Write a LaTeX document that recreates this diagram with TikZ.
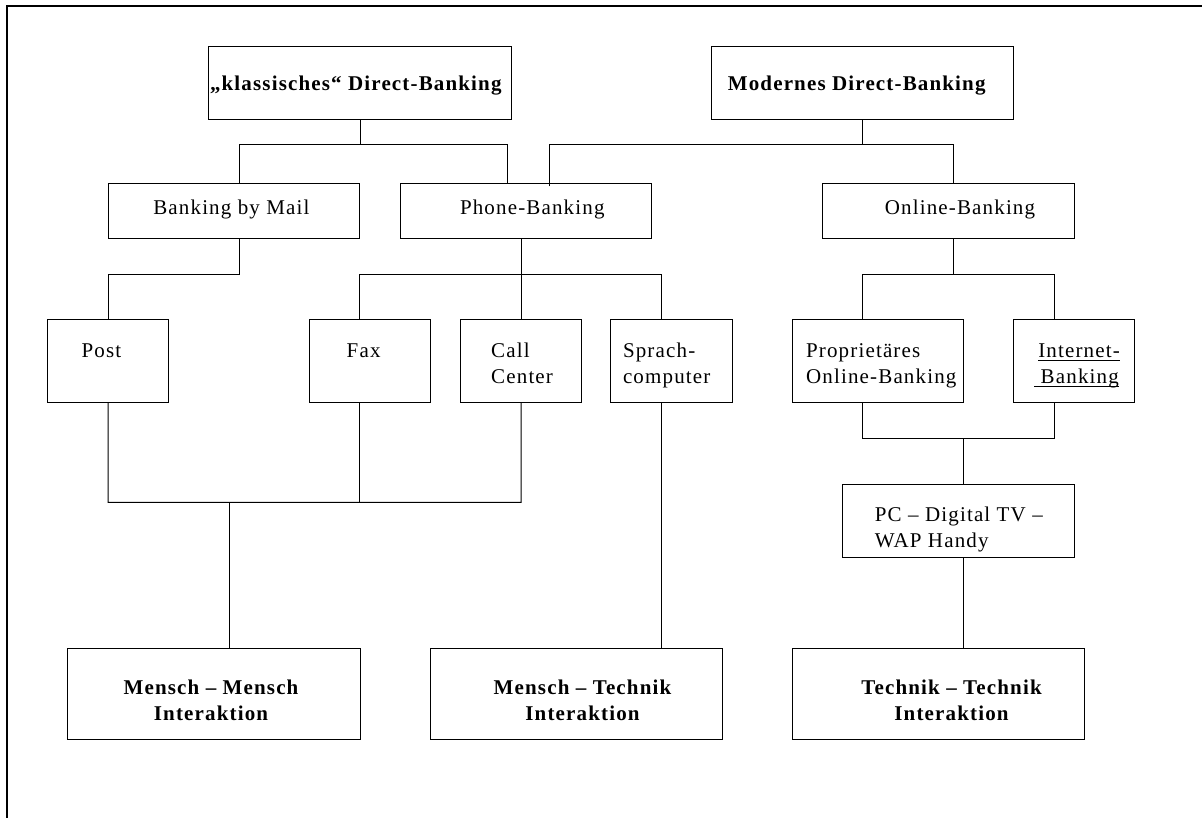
\documentclass[tikz,border=0pt]{standalone}
\usepackage{fontspec}
\setmainfont{Liberation Serif}[LetterSpace=5.5]
% multi-line labels: baseline of the whole block is the first line's baseline
\newcommand\linesL[1]{\vtop{\halign{##\hfil\cr#1\crcr}}}
\newcommand\linesC[1]{\vtop{\halign{\hfil##\hfil\cr#1\crcr}}}
% underline at a fixed depth below the baseline
\newcommand\ulinetxt[1]{\setbox0\hbox{#1}\rlap{\rule[-3.2pt]{\wd0}{0.9pt}}\box0}
\begin{document}
\begin{tikzpicture}[x=1pt,y=-1pt,
  box/.style={draw, line width=1pt, inner sep=0pt, outer sep=0pt},
  lbl/.style={inner sep=0pt, outer sep=0pt, font=\fontsize{21}{26}\selectfont},
  blbl/.style={inner sep=0pt, outer sep=0pt, font=\fontsize{21}{26}\selectfont\bfseries},
  conn/.style={line width=1pt}]
\useasboundingbox (0,0) rectangle (1202,818);

% outer frame
\draw[line width=2.5pt] (7,818) -- (7,6) -- (1202,6);

% boxes
\node[box, minimum width=302.7pt, minimum height=72.6pt] (klass)  at (360.15,83) {};
\node[box, minimum width=302.5pt, minimum height=72.6pt] (modern) at (862.55,83) {};
\node[box, minimum width=251.8pt, minimum height=55pt] (mail)   at (233.9,210.8) {};
\node[box, minimum width=250.6pt, minimum height=55pt] (phone)  at (525.7,210.8) {};
\node[box, minimum width=251.5pt, minimum height=55pt] (online) at (948.35,210.8) {};
\node[box, minimum width=121.1pt, minimum height=82.3pt] (post)   at (108.05,361.15) {};
\node[box, minimum width=120.7pt, minimum height=82.3pt] (fax)    at (369.95,361.15) {};
\node[box, minimum width=121.1pt, minimum height=82.3pt] (call)   at (521.05,361.15) {};
\node[box, minimum width=121.3pt, minimum height=82.3pt] (sprach) at (671.35,361.15) {};
\node[box, minimum width=171.5pt, minimum height=82.3pt] (prop)   at (877.75,361.15) {};
\node[box, minimum width=121pt,   minimum height=82.3pt] (inet)   at (1073.9,361.15) {};
\node[box, minimum width=231.5pt, minimum height=73pt] (pc)     at (958.35,520.8) {};
\node[box, minimum width=292.8pt, minimum height=91pt] (mm)     at (213.8,693.8) {};
\node[box, minimum width=291.7pt, minimum height=91pt] (mt)     at (576.15,693.8) {};
\node[box, minimum width=292.5pt, minimum height=91pt] (tt)     at (938.25,693.8) {};

% labels
\node[blbl, anchor=base west] (klassT)  at (210,91) {„klassisches“ Direct-Banking};
\node[blbl, anchor=base west] (modernT) at (727.8,91) {Modernes Direct-Banking};
\node[lbl, anchor=base west] (mailT)   at (153.3,215) {Banking by Mail};
\node[lbl, anchor=base west] (phoneT)  at (460,215) {Phone-Banking};
\node[lbl, anchor=base west] (onlineT) at (884.8,215) {Online-Banking};
\node[lbl, anchor=base west] (postT)   at (81.6,357.7) {Post};
\node[lbl, anchor=base west] (faxT)    at (346.7,357.7) {Fax};
\node[lbl, anchor=base west] (callT)   at (491.2,357.7) {\linesL{Call\cr Center}};
\node[lbl, anchor=base west] (sprachT) at (623,357.7) {\linesL{Sprach-\cr computer}};
\node[lbl, anchor=base west] (propT)   at (806.1,357.7) {\linesL{Proprietäres\cr Online-Banking}};
\node[lbl, anchor=base west] (inetT)   at (1034.3,357.7) {\linesL{\hspace{4pt}\ulinetxt{Internet-}\cr\ulinetxt{\ Banking}}};
\node[lbl, anchor=base west] (pcT)     at (874.9,521.7) {\linesL{PC – Digital TV –\cr WAP Handy}};
\node[blbl, anchor=base] (mmT) at (211,694) {\linesC{Mensch – Mensch\cr Interaktion}};
\node[blbl, anchor=base] (mtT) at (582.5,694) {\linesC{Mensch – Technik\cr Interaktion}};
\node[blbl, anchor=base] (ttT) at (951.5,694) {\linesC{Technik – Technik\cr Interaktion}};

% bus junctions
\coordinate (kbL) at (239.5,144.3);
\coordinate (kbR) at (507.7,144.3);
\coordinate (mbL) at (549.8,144.3);
\coordinate (mbR) at (953.6,144.3);
\coordinate (mailBus) at (239.1,274.3);
\coordinate (pbL) at (359.8,274.3);
\coordinate (pbR) at (661.4,274.3);
\coordinate (ob)  at (953.2,274.3);
\coordinate (obL) at (862.6,274.3);
\coordinate (obR) at (1054.1,274.3);
\coordinate (hbR) at (521,502.3);
\coordinate (hb)  at (229.1,502.3);
\coordinate (ibL) at (862.6,438.7);
\coordinate (ibR) at (1054.1,438.7);
\coordinate (ib)  at (963.5,438.7);

% top level
\draw[conn] (klass.south) -- (klass.south |- kbL);
\draw[conn] (kbL |- mail.north) -- (kbL) -- (kbR) -- (kbR |- phone.north);
\draw[conn] (modern.south) -- (modern.south |- mbR);
\draw[conn] ([yshift=-3pt]mbL |- phone.north) -- (mbL) -- (mbR) -- (mbR |- online.north);

% second level
\draw[conn] (mailBus |- mail.south) -- (mailBus) -| (post.north);
\draw[conn] (call.north |- phone.south) -- (call.north);
\draw[conn] (pbL |- fax.north) -- (pbL) -- (pbR) -- (pbR |- sprach.north);
\draw[conn] (ob |- online.south) -- (ob);
\draw[conn] (obL |- prop.north) -- (obL) -- (obR) -- (obR |- inet.north);

% third level
\draw[conn] (post.south) |- (hbR) -- (call.south);
\draw[conn] (pbL |- fax.south) -- (pbL |- hbR);
\draw[conn] (hb) -- (hb |- mm.north);
\draw[conn] (pbR |- sprach.south) -- (pbR |- mt.north);
\draw[conn] (ibL |- prop.south) -- (ibL) -- (ibR) -- (ibR |- inet.south);
\draw[conn] (ib) -- (ib |- pc.north);
\draw[conn] (ib |- pc.south) -- (ib |- tt.north);
\end{tikzpicture}
\end{document}
